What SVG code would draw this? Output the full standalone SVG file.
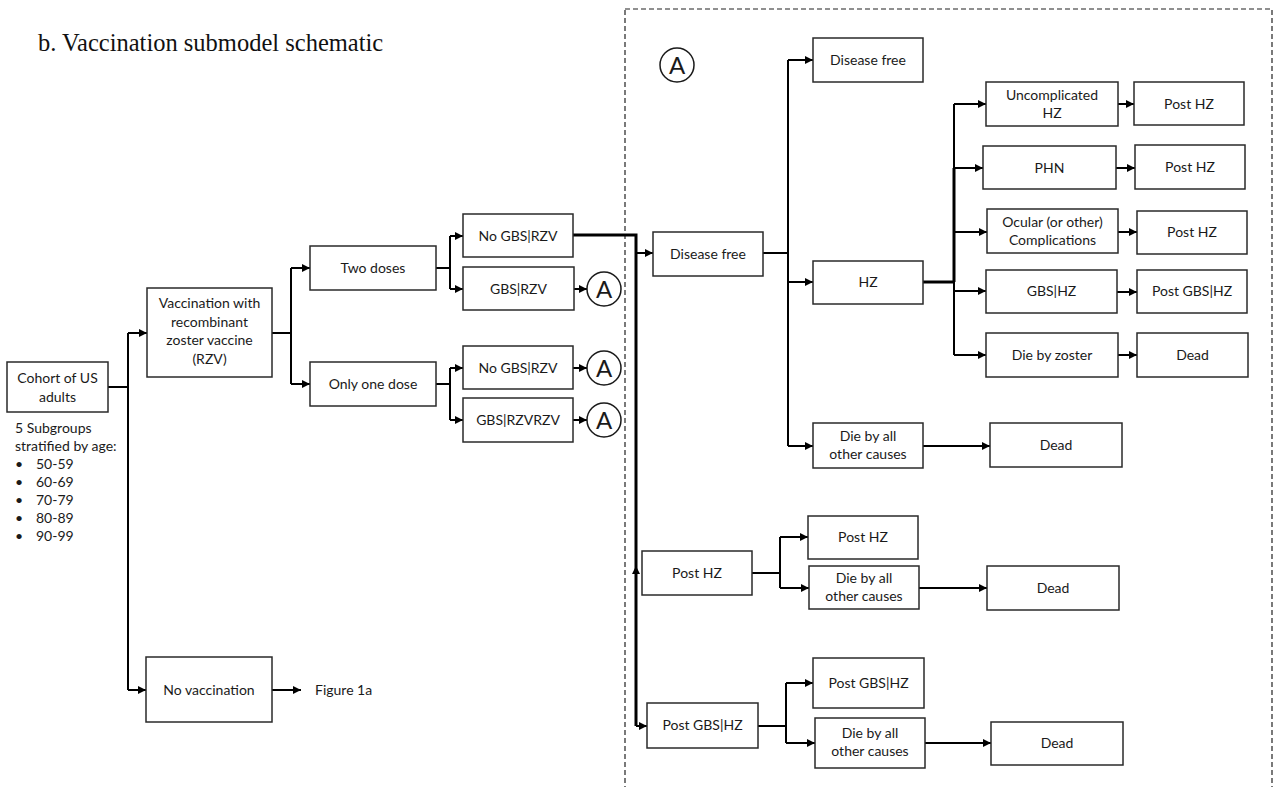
<svg xmlns="http://www.w3.org/2000/svg" width="1277" height="787" viewBox="0 0 1277 787">
<style>
.box{fill:#fff;stroke:#2a2a2a;stroke-width:1.5}
.t{font-family:Lato,"Noto Sans",sans-serif;font-size:14px;fill:#1a1a1a;text-anchor:middle}
.l{font-family:Lato,"Noto Sans",sans-serif;font-size:14px;fill:#1a1a1a}
.c{fill:#fff;stroke:#1a1a1a;stroke-width:1.5}
.ct{font-family:Lato,"Noto Sans",sans-serif;font-size:24px;fill:#1a1a1a;text-anchor:middle}
.ln{fill:none;stroke:#000;stroke-width:2}
.th{fill:none;stroke:#000;stroke-width:3}
.ar{fill:none;stroke:#000;stroke-width:2;marker-end:url(#ah)}
</style>
<defs>
<marker id="ah" markerUnits="userSpaceOnUse" markerWidth="9" markerHeight="9" refX="8" refY="4" orient="auto">
<path d="M0,0 L8,4 L0,8 z" fill="#000"/>
</marker>
</defs>
<rect width="1277" height="787" fill="#fff"/>
<text x="38" y="51" font-family="'Liberation Serif',serif" font-size="24.5" fill="#111">b. Vaccination submodel schematic</text>
<rect x="625" y="9" width="647" height="800" fill="none" stroke="#222" stroke-width="1.2" stroke-dasharray="5,3"/>

<g id="connectors">
<path class="ln" d="M108,387 H128 M128,333 V690"/>
<path class="ar" d="M128,333 H147"/>
<path class="ar" d="M128,690 H146"/>
<path class="ar" d="M272,690 H301"/>
<path class="ln" d="M272,333 H291 M291,268 V384"/>
<path class="ar" d="M291,268 H310"/>
<path class="ar" d="M291,384 H310"/>
<path class="ln" d="M436,268 H450 M450,236 V289"/>
<path class="ar" d="M450,236 H463"/>
<path class="ar" d="M450,289 H463"/>
<path class="ln" d="M436,384 H450 M450,368 V420"/>
<path class="ar" d="M450,368 H463"/>
<path class="ar" d="M450,420 H463"/>
<path class="ar" d="M574,289 H587"/>
<path class="ar" d="M573,368 H587"/>
<path class="ar" d="M573,420 H587"/>
<path class="th" d="M573,235 H636 V726"/>
<path class="ar" d="M636,253 H653"/>
<path class="ar" d="M636,578 V566"/>
<path class="ar" d="M636,726 H647"/>
<path class="ln" d="M763,253 H788 M788,60 V446"/>
<path class="ar" d="M788,60 H813"/>
<path class="ar" d="M788,282 H813"/>
<path class="ar" d="M788,446 H813"/>
<path class="th" d="M923,282 H954"/>
<path class="ln" d="M954,104 V355"/>
<path class="th" d="M954,168 V282"/>
<path class="ar" d="M954,104 H986"/>
<path class="ar" d="M954,168 H983"/>
<path class="ar" d="M954,232 H987"/>
<path class="ar" d="M954,291 H986"/>
<path class="ar" d="M954,355 H986"/>
<path class="ar" d="M1118,104 H1134"/>
<path class="ar" d="M1116,168 H1135"/>
<path class="ar" d="M1118,232 H1137"/>
<path class="ar" d="M1113,292 H1137"/>
<path class="ar" d="M1118,355 H1137"/>
<path class="ar" d="M923,446 H990"/>
<path class="ln" d="M752,573 H780 M780,537 V588"/>
<path class="ar" d="M780,537 H808"/>
<path class="ar" d="M780,588 H809"/>
<path class="ar" d="M919,588 H987"/>
<path class="ln" d="M758,726 H786 M786,683 V743"/>
<path class="ar" d="M786,683 H813"/>
<path class="ar" d="M786,743 H815"/>
<path class="ar" d="M925,743 H991"/>
</g>

<g id="cohort"><rect class="box" x="7" y="362" width="101" height="50"/><text class="t" x="57.5" y="383">Cohort of US</text><text class="t" x="57.5" y="402">adults</text></g>
<g id="subgroups">
<text class="l" x="15" y="433">5 Subgroups</text>
<text class="l" x="15" y="451">stratified by age:</text>
<text class="l" x="15" y="469">•</text><text class="l" x="36" y="469">50-59</text>
<text class="l" x="15" y="487">•</text><text class="l" x="36" y="487">60-69</text>
<text class="l" x="15" y="505">•</text><text class="l" x="36" y="505">70-79</text>
<text class="l" x="15" y="523">•</text><text class="l" x="36" y="523">80-89</text>
<text class="l" x="15" y="541">•</text><text class="l" x="36" y="541">90-99</text>
</g>
<g id="vaccination"><rect class="box" x="147" y="288" width="125" height="89"/>
<text class="t" x="209.5" y="308">Vaccination with</text><text class="t" x="209.5" y="326.5">recombinant</text><text class="t" x="209.5" y="345">zoster vaccine</text><text class="t" x="209.5" y="363.5">(RZV)</text></g>
<g id="novacc"><rect class="box" x="146" y="657" width="126" height="65"/><text class="t" x="209" y="695">No vaccination</text></g>
<g id="fig1a"><text class="l" x="315" y="695">Figure 1a</text></g>
<g id="twodoses"><rect class="box" x="310" y="246" width="126" height="44"/><text class="t" x="373" y="273">Two doses</text></g>
<g id="onedose"><rect class="box" x="310" y="362" width="126" height="44"/><text class="t" x="373" y="389">Only one dose</text></g>
<g id="nogbs1"><rect class="box" x="463" y="214" width="110" height="43"/><text class="t" x="518" y="241">No GBS|RZV</text></g>
<g id="gbs1"><rect class="box" x="463" y="267" width="111" height="43"/><text class="t" x="518.5" y="294">GBS|RZV</text></g>
<g id="nogbs2"><rect class="box" x="463" y="346" width="110" height="43"/><text class="t" x="518" y="373">No GBS|RZV</text></g>
<g id="gbs2"><rect class="box" x="463" y="398" width="110" height="44"/><text class="t" x="518" y="425">GBS|RZVRZV</text></g>
<g id="a1"><circle class="c" cx="604" cy="289" r="17"/><text class="ct" x="604" y="298">A</text></g>
<g id="a2"><circle class="c" cx="604" cy="368" r="17"/><text class="ct" x="604" y="377">A</text></g>
<g id="a3"><circle class="c" cx="604" cy="420" r="17"/><text class="ct" x="604" y="429">A</text></g>
<g id="a0"><circle class="c" cx="677" cy="65" r="17"/><text class="ct" x="677" y="74">A</text></g>

<g id="df0"><rect class="box" x="813" y="38" width="110" height="44"/><text class="t" x="868" y="65">Disease free</text></g>
<g id="df1"><rect class="box" x="653" y="232" width="110" height="44"/><text class="t" x="708" y="259">Disease free</text></g>
<g id="hz"><rect class="box" x="813" y="261" width="110" height="43"/><text class="t" x="868" y="287">HZ</text></g>
<g id="uhz"><rect class="box" x="986" y="82" width="132" height="44"/><text class="t" x="1052" y="100">Uncomplicated</text><text class="t" x="1052" y="118">HZ</text></g>
<g id="phz1"><rect class="box" x="1134" y="82" width="110" height="43"/><text class="t" x="1189" y="109">Post HZ</text></g>
<g id="phn"><rect class="box" x="983" y="146" width="133" height="43"/><text class="t" x="1049.5" y="173">PHN</text></g>
<g id="phz2"><rect class="box" x="1135" y="145" width="110" height="44"/><text class="t" x="1190" y="172">Post HZ</text></g>
<g id="ocular"><rect class="box" x="987" y="209" width="131" height="44"/><text class="t" x="1052.5" y="227">Ocular (or other)</text><text class="t" x="1052.5" y="245">Complications</text></g>
<g id="phz3"><rect class="box" x="1137" y="211" width="110" height="43"/><text class="t" x="1192" y="237">Post HZ</text></g>
<g id="gbshz"><rect class="box" x="986" y="270" width="131" height="43"/><text class="t" x="1051.5" y="296">GBS|HZ</text></g>
<g id="pgbshz"><rect class="box" x="1137" y="270" width="110" height="43"/><text class="t" x="1192" y="296">Post GBS|HZ</text></g>
<g id="dbz"><rect class="box" x="986" y="333" width="132" height="44"/><text class="t" x="1052" y="360">Die by zoster</text></g>
<g id="dead1"><rect class="box" x="1137" y="333" width="111" height="44"/><text class="t" x="1192.5" y="360">Dead</text></g>
<g id="dball1"><rect class="box" x="813" y="423" width="110" height="45"/><text class="t" x="868" y="441">Die by all</text><text class="t" x="868" y="459">other causes</text></g>
<g id="dead2"><rect class="box" x="990" y="423" width="132" height="44"/><text class="t" x="1056" y="450">Dead</text></g>
<g id="posthz"><rect class="box" x="642" y="551" width="110" height="44"/><text class="t" x="697" y="578">Post HZ</text></g>
<g id="posthz2"><rect class="box" x="808" y="516" width="110" height="43"/><text class="t" x="863" y="542">Post HZ</text></g>
<g id="dball2"><rect class="box" x="809" y="566" width="110" height="43"/><text class="t" x="864" y="583">Die by all</text><text class="t" x="864" y="601">other causes</text></g>
<g id="dead3"><rect class="box" x="987" y="566" width="132" height="44"/><text class="t" x="1053" y="593">Dead</text></g>
<g id="postgbs"><rect class="box" x="647" y="703" width="111" height="45"/><text class="t" x="702.5" y="730">Post GBS|HZ</text></g>
<g id="postgbs2"><rect class="box" x="813" y="658" width="111" height="50"/><text class="t" x="868.5" y="688">Post GBS|HZ</text></g>
<g id="dball3"><rect class="box" x="815" y="718" width="110" height="50"/><text class="t" x="870" y="738">Die by all</text><text class="t" x="870" y="756">other causes</text></g>
<g id="dead4"><rect class="box" x="991" y="722" width="132" height="43"/><text class="t" x="1057" y="748">Dead</text></g>
</svg>
